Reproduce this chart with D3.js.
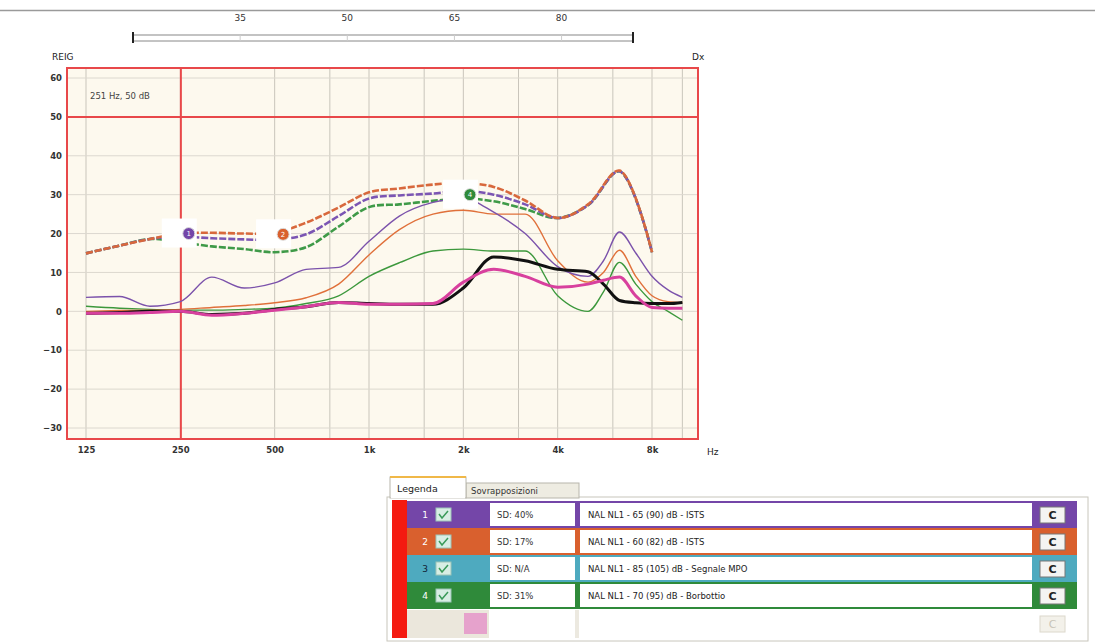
<!DOCTYPE html>
<html>
<head>
<meta charset="utf-8">
<script src="https://cdn.jsdelivr.net/npm/d3@7"></script>
<style>
  body { margin: 0; background: #fff; }
  text { font-family: "DejaVu Sans", sans-serif; }
</style>
</head>
<body>
<svg id="chart" width="1095" height="643"></svg>
<script>
// --- data ---
var targetFreqs = [125,160,200,250,315,400,500,630,800,1000,1250,1600,2000,2500,3150,4000,5000,6300,8000]
var target1 = [14.9,16.9,18.6,19.2,18.8,18.5,18.4,19.8,24.5,29,29.8,30.3,31,30,27.5,24,27.3,36,15.2]
var target2 = [14.9,16.9,18.6,20,20.2,20,20.2,22.8,26.7,30.6,31.6,32.6,33,32,28.5,24,27.5,36.2,15.2]
var target4 = [14.9,16.9,18.6,17.8,16.7,16,15.2,16.5,21.8,26.8,27.5,28.4,29,28.3,26.3,24,27.3,36,15.2]

var measFreqs = [125,160,200,250,315,400,500,630,800,1000,1250,1600,2000,2500,3150,4000,5000,5600,6300,7100,8000,9000,10000]
var meas1 = [3.6,3.8,1.3,2.5,8.8,6,7.3,10.8,11.3,18,24.5,28,29,25.5,20,11.5,9,13,20.4,15,9,5.5,3.6]
var meas2 = [0,0.2,0.3,0.5,1,1.5,2.2,3.5,7,14.5,21,25,26,25,25,13,7.5,10,15.7,9,4,2.5,2.3]
var meas4 = [1.3,0.8,0.5,0.3,0.3,0.5,0.8,2,4,9,12.5,15.5,16,15.5,15.5,4,0,5,12.6,7,2.5,0,-2.3]
var measBlack = [-0.5,-0.3,0,0,-0.8,-0.5,0.5,1.2,2.3,2,1.8,1.8,6,14,13,10.8,10.2,7,2.8,2.2,2,2,2.3]
var measPink = [-0.5,-0.5,-0.3,0,-1,-0.5,0.3,1.2,2.3,1.8,1.8,2,7.5,10.8,9,6.2,7,8,8.8,4,1,0.8,0.8]

var markerLabels = ["1", "2", "4"]
var markerFreqs = [266, 532, 2100]
var markerDb = [20, 19.8, 30]

var yTicks = [60,50,40,30,20,10,0,-10,-20,-30]
var xTickFreqs = [125,250,500,1000,2000,4000,8000]
var xTickLabels = ["125","250","500","1k","2k","4k","8k"]
var gridFreqs = [125,250,500,750,1000,1500,2000,3000,4000,6000,8000,10000]
var levelTicks = [35,50,65,80]

var rowNums = ["1","2","3","4"]
var rowColors = ["#7446a8","#d9602e","#4eaabf","#2f8a3a"]
var rowSD = ["SD: 40%","SD: 17%","SD: N/A","SD: 31%"]
var rowNames = ["NAL NL1 - 65 (90) dB - ISTS","NAL NL1 - 60 (82) dB - ISTS",
                "NAL NL1 - 85 (105) dB - Segnale MPO","NAL NL1 - 70 (95) dB - Borbottio"]

var cursorFreq = 251, cursorDb = 50

var svg = d3.select("#chart")
svg.append("rect").attr("width",1095).attr("height",643).attr("fill","#fff")

var x = d3.scaleLog().domain([125, 8000]).range([86, 652])
var y = d3.scaleLinear().domain([-30, 60]).range([428, 78])
var fl = 67, fr = 698, ft = 68, fb = 439

// top line + level bar
svg.append("line").attr("x1",0).attr("x2",1095).attr("y1",10.5).attr("y2",10.5)
   .attr("stroke","#9a9a9a").attr("stroke-width",1.5)
var lv = d3.scaleLinear().domain([20, 90]).range([133, 633])
svg.append("rect").attr("x",lv(20)).attr("y",35).attr("width",lv(90)-lv(20)).attr("height",6)
   .attr("fill","#fff").attr("stroke","#888")
svg.selectAll(".cap").data([20,90]).enter().append("line")
   .attr("x1",d => lv(d)).attr("x2",d => lv(d)).attr("y1",32).attr("y2",43)
   .attr("stroke","#222").attr("stroke-width",2)
svg.selectAll(".lvtick").data(levelTicks).enter().append("line")
   .attr("x1",d => lv(d)).attr("x2",d => lv(d)).attr("y1",35).attr("y2",41)
   .attr("stroke","#ccc")
svg.selectAll(".lvlab").data(levelTicks).enter().append("text")
   .attr("x",d => lv(d)).attr("y",21).attr("text-anchor","middle")
   .attr("font-size",9).attr("fill","#333").text(d => d)

svg.append("text").attr("x",52).attr("y",60).attr("font-size",9).attr("fill","#222").text("REIG")
svg.append("text").attr("x",692).attr("y",60).attr("font-size",9).attr("fill","#222").text("Dx")

// plot background
svg.append("rect").attr("x",fl).attr("y",ft).attr("width",fr-fl).attr("height",fb-ft).attr("fill","#fdf9ee")

svg.append("clipPath").attr("id","clip").append("rect")
   .attr("x",fl).attr("y",ft).attr("width",fr-fl).attr("height",fb-ft)

// grid
svg.selectAll(".vg").data(gridFreqs).enter().append("line")
   .attr("x1",d => x(d)).attr("x2",d => x(d)).attr("y1",ft).attr("y2",fb)
   .attr("stroke","#c9c5bb").attr("stroke-width",1)
svg.selectAll(".hg").data(yTicks).enter().append("line")
   .attr("x1",fl).attr("x2",fr).attr("y1",d => y(d)).attr("y2",d => y(d))
   .attr("stroke","#dcd8cf").attr("stroke-width",1)

// axes labels
var yAxis = d3.axisLeft(y).tickValues(yTicks).tickSize(0).tickPadding(0)
svg.append("g").attr("transform","translate(62,0)").call(yAxis)
   .call(g => g.select(".domain").remove())
   .selectAll("text").attr("font-size",8.5).attr("font-weight","bold").attr("fill","#333")
   .attr("font-family","DejaVu Sans")
var xAxis = d3.axisBottom(x).tickValues(xTickFreqs).tickSize(0).tickPadding(0)
   .tickFormat((d,i) => xTickLabels[i])
svg.append("g").attr("transform","translate(0,447)").call(xAxis)
   .call(g => g.select(".domain").remove())
   .selectAll("text").attr("font-size",8.5).attr("font-weight","bold").attr("fill","#333")
   .attr("font-family","DejaVu Sans")
svg.append("text").attr("x",707).attr("y",455).attr("font-size",9).attr("fill","#222").text("Hz")

var plot = svg.append("g").attr("clip-path","url(#clip)")

// cursor
plot.append("line").attr("x1",fl).attr("x2",fr).attr("y1",y(cursorDb)).attr("y2",y(cursorDb))
    .attr("stroke","#e8484a").attr("stroke-width",2)
plot.append("line").attr("x1",x(cursorFreq)).attr("x2",x(cursorFreq)).attr("y1",ft).attr("y2",fb)
    .attr("stroke","#e8484a").attr("stroke-width",2)
svg.append("text").attr("x",90).attr("y",99).attr("font-size",8.5).attr("fill","#444")
   .text(cursorFreq + " Hz, " + cursorDb + " dB")

// target curves (dashed)
var tLine = d3.line().x((d,i) => x(targetFreqs[i])).y(d => y(d)).curve(d3.curveCatmullRom.alpha(0.5))
var targets = [[target4,"#3f9a48"],[target1,"#7b55b3"],[target2,"#d8683c"]]
targets.forEach(function(t) {
  plot.append("path").attr("d", tLine(t[0])).attr("fill","none")
      .attr("stroke",t[1]).attr("stroke-width",2.6).attr("stroke-dasharray","7,2")
})

// measured curves
var mLine = d3.line().x((d,i) => x(measFreqs[i])).y(d => y(d)).curve(d3.curveMonotoneX)
var meas = [[meas4,"#3c983c",1.4],[meas2,"#e0703a",1.4],[meas1,"#7b52ab",1.4],
            [measBlack,"#111",3],[measPink,"#d8409e",3]]
meas.forEach(function(m) {
  plot.append("path").attr("d", mLine(m[0])).attr("fill","none")
      .attr("stroke",m[1]).attr("stroke-width",m[2])
})

// markers with white label boxes
var mk = plot.selectAll(".mk").data(markerLabels).enter().append("g")
   .attr("transform",(d,i) => "translate(" + x(markerFreqs[i]) + "," + y(markerDb[i]) + ")")
mk.append("rect").attr("x",-27).attr("y",-15).attr("width",35).attr("height",29).attr("fill","#fff")
mk.append("circle").attr("r",6).attr("fill",(d,i) => [rowColors[0],rowColors[1],rowColors[3]][i])
   .attr("stroke","#ddd").attr("stroke-width",1)
mk.append("text").attr("y",2.5).attr("text-anchor","middle").attr("font-size",7)
   .attr("fill","#fff").text(d => d)

// frame
svg.append("rect").attr("x",fl).attr("y",ft).attr("width",fr-fl).attr("height",fb-ft)
   .attr("fill","none").attr("stroke","#e8484a").attr("stroke-width",2)

// --- legend panel ---
var lg = svg.append("g")
lg.append("rect").attr("x",387).attr("y",497).attr("width",701).attr("height",144)
  .attr("fill","#fff").attr("stroke","#c8c6bc")
lg.append("rect").attr("x",466).attr("y",483).attr("width",113).attr("height",15)
  .attr("fill","#eeece2").attr("stroke","#b8b6ac")
lg.append("text").attr("x",471).attr("y",494).attr("font-size",8.5).attr("fill","#333").text("Sovrapposizioni")
lg.append("rect").attr("x",390).attr("y",477).attr("width",76).attr("height",21)
  .attr("fill","#fff").attr("stroke","#b8b6ac")
lg.append("line").attr("x1",390).attr("x2",466).attr("y1",477).attr("y2",477)
  .attr("stroke","#f0b848").attr("stroke-width",2)
lg.append("line").attr("x1",391).attr("x2",465).attr("y1",497.5).attr("y2",497.5)
  .attr("stroke","#fff").attr("stroke-width",1.5)
lg.append("text").attr("x",397).attr("y",492).attr("font-size",9.5).attr("fill","#222").text("Legenda")

lg.append("rect").attr("x",392).attr("y",500).attr("width",15).attr("height",138).attr("fill","#f41a10")

var rows = lg.selectAll(".row").data(rowNums).enter().append("g")
  .attr("transform",(d,i) => "translate(0," + (501 + i*27) + ")")
rows.append("rect").attr("x",407).attr("width",670).attr("height",27).attr("fill",(d,i) => rowColors[i])
rows.append("rect").attr("x",490).attr("y",2).attr("width",85).attr("height",23).attr("fill","#fff")
rows.append("rect").attr("x",580).attr("y",2).attr("width",452).attr("height",23).attr("fill","#fff")
rows.append("text").attr("x",425).attr("y",17).attr("text-anchor","middle").attr("font-size",9)
  .attr("fill",(d,i) => i == 2 ? "#123" : "#fff").text(d => d)
rows.append("rect").attr("x",436).attr("y",7).attr("width",15).attr("height",13)
  .attr("fill","#d8eee4").attr("stroke","#9cc4b8")
rows.append("path").attr("d","M439,13 L442,17 L448,10").attr("fill","none")
  .attr("stroke","#3a9a5a").attr("stroke-width",1.5)
rows.append("text").attr("x",497).attr("y",17).attr("font-size",8.5).attr("fill","#333").text((d,i) => rowSD[i])
rows.append("text").attr("x",588).attr("y",17).attr("font-size",8.5).attr("fill","#222").text((d,i) => rowNames[i])
rows.append("rect").attr("x",1040).attr("y",6).attr("width",25).attr("height",16)
  .attr("fill","#f4f4f2").attr("stroke","#777")
rows.append("text").attr("x",1052.5).attr("y",18).attr("text-anchor","middle").attr("font-size",11)
  .attr("font-weight","bold").attr("fill","#222").text("C")

// empty fifth row
var r5 = lg.append("g").attr("transform","translate(0,610)")
r5.append("rect").attr("x",407).attr("width",82).attr("height",28).attr("fill","#ebe7dc")
r5.append("rect").attr("x",464).attr("y",3).attr("width",23).attr("height",21).attr("fill","#e6a2cc")
r5.append("line").attr("x1",577).attr("x2",577).attr("y1",0).attr("y2",28).attr("stroke","#ece9e0").attr("stroke-width",4)
r5.append("rect").attr("x",1040).attr("y",6).attr("width",25).attr("height",16)
  .attr("fill","#f3f1ea").attr("stroke","#dcd8cc")
r5.append("text").attr("x",1052.5).attr("y",18).attr("text-anchor","middle").attr("font-size",11)
  .attr("fill","#c8c4b8").text("C")
</script>
</body>
</html>
